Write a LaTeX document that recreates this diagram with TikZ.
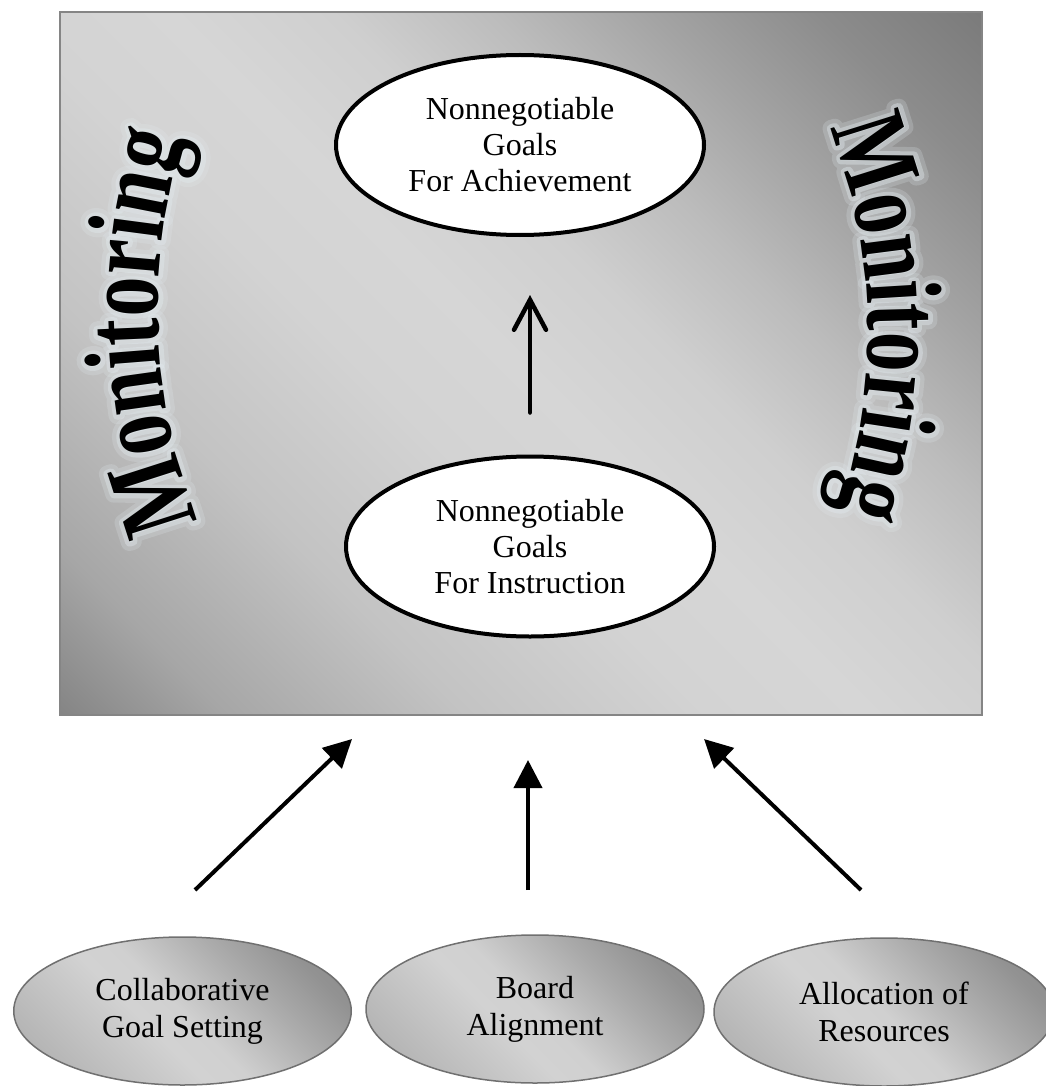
\documentclass[tikz,border=0pt]{standalone}
\usepackage{fontspec}
\setmainfont{Liberation Serif}
\newfontfamily\monfont[FakeStretch=0.74]{Liberation Serif Bold}
\newfontfamily\monglowA[FakeStretch=0.74,FakeBold=16]{Liberation Serif Bold}
\newfontfamily\monglowB[FakeStretch=0.74,FakeBold=8]{Liberation Serif Bold}
\usetikzlibrary{shapes.geometric,arrows.meta,decorations.text}
\definecolor{bA}{HTML}{858585}
\definecolor{bB}{HTML}{A6A6A6}
\definecolor{bC}{HTML}{C3C3C3}
\definecolor{bD}{HTML}{D3D3D3}
\definecolor{bE}{HTML}{D6D6D6}
\definecolor{bF}{HTML}{CFCFCF}
\definecolor{bG}{HTML}{BCBCBC}
\definecolor{bH}{HTML}{A3A3A3}
\definecolor{bI}{HTML}{8C8C8C}
\definecolor{bJ}{HTML}{7B7B7B}
\definecolor{eA}{HTML}{A8A8A8}
\definecolor{eB}{HTML}{BDBDBD}
\definecolor{eC}{HTML}{D2D2D2}
\definecolor{eD}{HTML}{D0D0D0}
\definecolor{eE}{HTML}{ABABAB}
\definecolor{eF}{HTML}{929292}
\definecolor{eG}{HTML}{888888}
\definecolor{boxline}{HTML}{858585}
\definecolor{fline}{HTML}{707070}
\definecolor{glow}{HTML}{E2EAEE}
\pgfdeclarehorizontalshading{boxshade}{100bp}{color(0bp)=(bA); color(14.6bp)=(bA); color(21.7bp)=(bB); color(32.3bp)=(bC); color(42.9bp)=(bD); color(50bp)=(bE); color(57.1bp)=(bF); color(64.1bp)=(bG); color(71.2bp)=(bH); color(78.3bp)=(bI); color(85.4bp)=(bJ); color(100bp)=(bJ)}
\pgfdeclarehorizontalshading{ellshade}{100bp}{color(0bp)=(eA); color(14.6bp)=(eA); color(28.8bp)=(eB); color(42.9bp)=(eC); color(50bp)=(eD); color(64.1bp)=(eE); color(74.8bp)=(eF); color(85.4bp)=(eG); color(100bp)=(eG)}
\begin{document}
\begin{tikzpicture}[x=1pt,y=-1pt,
  boxstyle/.style={rectangle, draw=boxline, line width=2pt, shading=boxshade, shading angle=45, minimum width=922pt, minimum height=703pt, inner sep=0pt},
  goal/.style={ellipse, draw=black, line width=4pt, fill=white, minimum width=368pt, minimum height=180pt, inner sep=0pt, align=center, font=\fontsize{32}{36}\selectfont},
  factor/.style={ellipse, draw=fline, line width=1.5pt, shading=ellshade, shading angle=45, minimum height=148pt, inner sep=0pt, align=center, font=\fontsize{32}{37}\selectfont},
  openarrow/.style={line width=4.5pt, line cap=round, -{Straight Barb[length=30pt,width=32pt,line cap=round]}},
  fatarrow/.style={line width=4pt, -{Triangle[length=28pt,width=28pt]}},
  montext/.style={decorate, decoration={text along path, text align=center, text={#1}}}
]
\useasboundingbox (0,0) rectangle (1045,1086);

\node[boxstyle] (box) at (521,363.75) {};

% Monitoring (left reads upward, right reads downward): glow layers, then text
\begin{scope}[opacity=0.22, line join=round]
\path[montext={|\monglowA\fontsize{108}{108}\selectfont\color{glow}|Monitoring}]
  plot[domain=0:48, samples=97, variable=\s] ({739-581*cos(26.2-\s)}, {309+581*sin(26.2-\s)});
\path[montext={|\monglowA\fontsize{108}{108}\selectfont\color{glow}|Monitoring}]
  plot[domain=0:48, samples=97, variable=\s] ({305+563*cos(-25.4+\s)}, {332+563*sin(-25.4+\s)});
\end{scope}
\begin{scope}[opacity=0.4, line join=round]
\path[montext={|\monglowB\fontsize{108}{108}\selectfont\color{glow}|Monitoring}]
  plot[domain=0:48, samples=97, variable=\s] ({739-581*cos(26.2-\s)}, {309+581*sin(26.2-\s)});
\path[montext={|\monglowB\fontsize{108}{108}\selectfont\color{glow}|Monitoring}]
  plot[domain=0:48, samples=97, variable=\s] ({305+563*cos(-25.4+\s)}, {332+563*sin(-25.4+\s)});
\end{scope}
\path[montext={|\monfont\fontsize{108}{108}\selectfont|Monitoring}]
  plot[domain=0:48, samples=97, variable=\s] ({739-581*cos(26.2-\s)}, {309+581*sin(26.2-\s)});
\path[montext={|\monfont\fontsize{108}{108}\selectfont|Monitoring}]
  plot[domain=0:48, samples=97, variable=\s] ({305+563*cos(-25.4+\s)}, {332+563*sin(-25.4+\s)});

% goal ellipses
\node[goal] (top) at (520,145) {Nonnegotiable\\Goals\\For Achievement};
\node[goal] (mid) at (530,546.5) {Nonnegotiable\\Goals\\For Instruction};
\draw[openarrow, shorten <=42pt, shorten >=58pt] (mid.north) -- (top.south -| mid.north);

% factor ellipses
\node[factor, minimum width=337.5pt] (f1) at (182.5,1011) {Collaborative\\Goal Setting};
\node[factor, minimum width=338pt] (f2) at (535,1009) {Board\\Alignment};
\node[factor, minimum width=340pt] (f3) at (884,1012) {Allocation of\\Resources};

% arrows to the box
\coordinate (s1) at (195,890); \coordinate (t1) at (352,739);
\coordinate (s2) at (528,890); \coordinate (t2) at (528,760);
\coordinate (s3) at (861,890); \coordinate (t3) at (704,739);
\draw[fatarrow] (s1) -- (t1);
\draw[fatarrow] (s2) -- (t2);
\draw[fatarrow] (s3) -- (t3);
\end{tikzpicture}
\end{document}
